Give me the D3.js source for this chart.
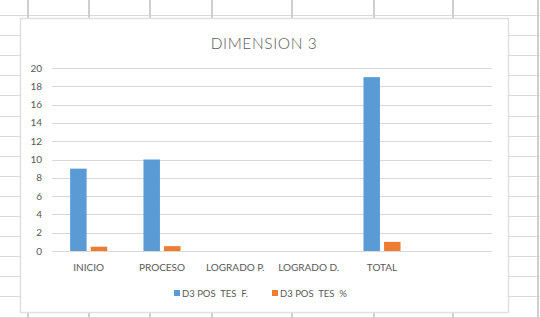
<!DOCTYPE html>
<html>
<head>
<meta charset="utf-8">
<script src="https://cdn.jsdelivr.net/npm/d3@7"></script>
<style>
  body{margin:0;background:#fff;}
  text{font-family:Lato,"Liberation Sans",sans-serif;fill:#595959;}
</style>
</head>
<body>
<script>
// data
var categories=["INICIO","PROCESO","LOGRADO P.","LOGRADO D.","TOTAL",""]
var seriesNames=["D3 POS  TES  F.","D3 POS  TES  %"]
var valuesF=[9,10,0,0,19,null]
var valuesPct=[0.47,0.53,0,0,1,null]
var yTicks=[0,2,4,6,8,10,12,14,16,18,20]
var colors=["#5b9bd5","#ed7d31"]

var screen={width:540,height:318}
var svg=d3.select("body").append("svg")
          .attr("width",screen.width)
          .attr("height",screen.height)

// spreadsheet cells behind the chart
var colLines=[28,89,150,212,292,374,453,538]
var rowLines=d3.range(15,318,20.1)
var sheet=svg.append("g").classed("sheet",true)
sheet.selectAll("line.row")
     .data(rowLines)
     .enter()
     .append("line")
     .attr("x1",0).attr("x2",screen.width)
     .attr("y1",function(d){return Math.round(d)+0.5})
     .attr("y2",function(d){return Math.round(d)+0.5})
     .attr("stroke","#dadada")
sheet.selectAll("line.col")
     .data(colLines)
     .enter()
     .append("line")
     .attr("x1",function(d){return d}).attr("x2",function(d){return d})
     .attr("y1",0).attr("y2",screen.height)
     .attr("stroke","#cfcfcf")
     .attr("stroke-width",2)

// chart box
var box={x:20,y:18,w:488,h:294}
svg.append("rect")
   .attr("x",box.x+0.5).attr("y",box.y+0.5)
   .attr("width",box.w).attr("height",box.h)
   .attr("fill","#fff")
   .attr("stroke","#e0e0e0")
   .attr("stroke-width",1.5)

svg.append("text")
   .attr("x",box.x+box.w/2)
   .attr("y",49)
   .attr("text-anchor","middle")
   .attr("font-size","15.5px")
   .attr("font-weight",300)
   .attr("letter-spacing","0.6px")
   .text("DIMENSION 3")

var plot={left:52,right:492,top:68,bottom:251}
var y=d3.scaleLinear().domain([0,20]).range([plot.bottom,plot.top])
var x0=d3.scaleBand().domain(d3.range(categories.length)).range([plot.left,plot.right]).padding(0)
var x1=d3.scaleBand().domain([0,1]).range([0,x0.bandwidth()]).paddingInner(0.2).paddingOuter(0.88)

var grid=svg.append("g")
grid.selectAll("line")
    .data(yTicks)
    .enter()
    .append("line")
    .attr("x1",plot.left).attr("x2",plot.right)
    .attr("y1",function(d){return Math.round(y(d))+0.5})
    .attr("y2",function(d){return Math.round(y(d))+0.5})
    .attr("stroke","#d9d9d9")
grid.selectAll("text")
    .data(yTicks)
    .enter()
    .append("text")
    .attr("x",42)
    .attr("y",function(d){return y(d)+3.5})
    .attr("text-anchor","end")
    .attr("font-size","10px")
    .text(function(d){return d})

var rows=categories.map(function(c,i){return {i:i,vals:[valuesF[i],valuesPct[i]]}})
var groups=svg.append("g").selectAll("g")
              .data(rows)
              .enter()
              .append("g")
              .attr("transform",function(d){return "translate("+x0(d.i)+",0)"})
groups.selectAll("rect")
      .data(function(d){return d.vals.map(function(v,k){return {k:k,v:v}}).filter(function(e){return e.v})})
      .enter()
      .append("rect")
      .attr("x",function(d){return x1(d.k)})
      .attr("y",function(d){return y(d.v)})
      .attr("width",x1.bandwidth())
      .attr("height",function(d){return y(0)-y(d.v)})
      .attr("fill",function(d){return colors[d.k]})

svg.append("g").selectAll("text")
   .data(categories)
   .enter()
   .append("text")
   .attr("x",function(d,i){return x0(i)+x0.bandwidth()/2})
   .attr("y",271)
   .attr("text-anchor","middle")
   .attr("font-size","10px")
   .text(function(d){return d})

var legend=svg.append("g").attr("transform","translate(174,290)")
var legendX=[0,98]
var items=legend.selectAll("g")
                .data(seriesNames)
                .enter()
                .append("g")
                .attr("transform",function(d,i){return "translate("+legendX[i]+",0)"})
items.append("rect")
     .attr("width",6).attr("height",6)
     .attr("fill",function(d,i){return colors[i]})
items.append("text")
     .attr("x",8)
     .attr("y",6.5)
     .attr("font-size","9.5px")
     .style("white-space","pre")
     .text(function(d){return d})
</script>
</body>
</html>
